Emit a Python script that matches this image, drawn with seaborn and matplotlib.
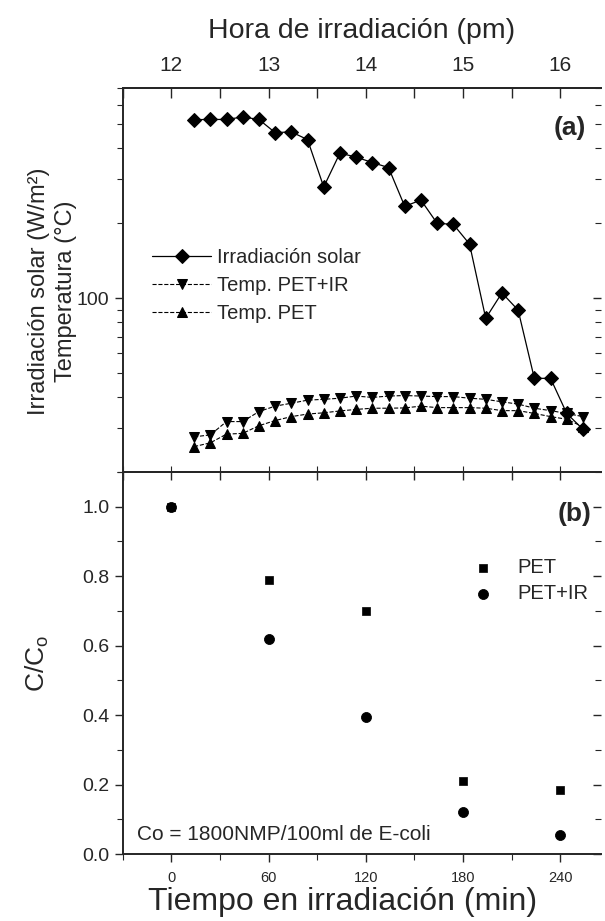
import matplotlib
matplotlib.use("Agg")
import matplotlib.pyplot as plt
import matplotlib.ticker as mticker
import seaborn as sns

# panel (a): minutes after 12:00
tiempo_a = [14, 24, 34, 44, 54, 64, 74, 84, 94, 104, 114, 124, 134,
            144, 154, 164, 174, 184, 194, 204, 214, 224, 234, 244, 254]
irradiacion = [522, 523, 523, 535, 523, 463, 466, 434, 280, 383, 369, 351, 335,
               234, 248, 200, 198, 165, 83, 105, 89.5, 47.6, 47.6, 34.4, 29.7]
temp_pet_ir = [27.7, 28.2, 31.9, 31.9, 35.0, 36.8, 37.8, 38.9, 39.2, 39.6, 40.4, 39.9, 40.4,
               40.6, 40.4, 40.2, 40.2, 39.6, 39.2, 38.3, 37.5, 36.1, 35.3, 34.4, 33.4]
temp_pet = [25.3, 26.2, 28.4, 28.6, 30.7, 32.2, 33.4, 34.2, 34.6, 35.2, 35.7, 36.1, 36.1,
            36.2, 36.8, 36.3, 36.3, 36.3, 36.1, 35.3, 35.3, 34.4, 33.4, 32.6, 30.4]
horas = [12, 13, 14, 15, 16]

# panel (b)
tiempo_b = [0, 60, 120, 180, 240]
cc_pet = [1.0, 0.79, 0.70, 0.21, 0.185]
cc_pet_ir = [1.0, 0.62, 0.395, 0.12, 0.055]

sns.set_style("ticks")
plt.rcParams['font.family'] = ['Liberation Sans', 'DejaVu Sans']

fig = plt.figure(figsize=(6.05, 9.21), dpi=100)
ax1 = fig.add_axes([0.203, 0.4875, 0.79, 0.417])
ax2 = fig.add_axes([0.203, 0.0727, 0.79, 0.4148])

# ---- panel (a)
sns.lineplot(x=tiempo_a, y=irradiacion, ax=ax1, color="k", lw=0.9, marker="D",
             markersize=7, markeredgecolor="k", label="Irradiación solar")
sns.lineplot(x=tiempo_a, y=temp_pet_ir, ax=ax1, color="k", lw=0.8, ls="--", marker="v",
             markersize=7.5, markeredgecolor="k", label="Temp. PET+IR")
sns.lineplot(x=tiempo_a, y=temp_pet, ax=ax1, color="k", lw=0.8, ls="--", marker="^",
             markersize=7.5, markeredgecolor="k", label="Temp. PET")

ax1.set_yscale("log")
ax1.set_ylim(20, 700)
ax1.set_xlim(-30, 265)
ax1.yaxis.set_major_locator(mticker.FixedLocator([100]))
ax1.yaxis.set_major_formatter(mticker.FixedFormatter(["100"]))
ax1.yaxis.set_minor_locator(mticker.LogLocator(base=10, subs=range(2, 10), numticks=20))
ax1.yaxis.set_minor_formatter(mticker.NullFormatter())
ax1.xaxis.set_major_locator(mticker.MultipleLocator(30))
ax1.tick_params(axis="x", which="both", labelbottom=False, direction="inout", length=8)
ax1.tick_params(axis="y", which="both", labelsize=14)
ax1.tick_params(axis="y", which="major", length=6, width=1)
ax1.tick_params(axis="y", which="minor", length=4, width=0.8)
ax1.set_xlabel("")
ax1.set_ylabel("Irradiación solar (W/m²)\nTemperatura (°C)", fontsize=17, linespacing=1.3)
ax1.yaxis.set_label_coords(-0.095, 0.47)

# right ticks pointing inward
r1 = ax1.secondary_yaxis("right")
r1.yaxis.set_major_locator(mticker.FixedLocator([100]))
r1.yaxis.set_minor_locator(mticker.LogLocator(base=10, subs=range(2, 10), numticks=20))
r1.tick_params(axis="y", which="both", direction="in", labelright=False)
r1.tick_params(axis="y", which="major", length=6, width=1)
r1.tick_params(axis="y", which="minor", length=4, width=0.8)
r1.spines["right"].set_visible(False)

top = ax1.secondary_xaxis("top", functions=(lambda m: 12 + m / 60.0, lambda h: (h - 12) * 60.0))
top.xaxis.set_major_locator(mticker.FixedLocator(horas))
top.xaxis.set_minor_locator(mticker.MultipleLocator(0.5))
top.tick_params(axis="x", which="both", direction="in", labelsize=15, pad=9)
top.tick_params(axis="x", which="major", length=7, width=1)
top.tick_params(axis="x", which="minor", length=7, width=1)
top.set_xlabel("Hora de irradiación (pm)", fontsize=20.5, labelpad=13)
ax1.tick_params(axis="x", top=False)

ax1.legend(loc="upper left", bbox_to_anchor=(0.045, 0.605), frameon=False, fontsize=14.5,
           handlelength=2.9, handletextpad=0.3, labelspacing=0.45, borderaxespad=0)
ax1.text(0.97, 0.895, "(a)", transform=ax1.transAxes, ha="right", va="center",
         fontsize=19, fontweight="bold")

# ---- panel (b)
sns.scatterplot(x=tiempo_b, y=cc_pet, ax=ax2, marker="s", s=38, color="k",
                edgecolor="k", label="PET")
sns.scatterplot(x=tiempo_b, y=cc_pet_ir, ax=ax2, marker="o", s=52, color="k",
                edgecolor="k", label="PET+IR")

ax2.set_xlim(-30, 265)
ax2.set_ylim(0, 1.1)
ax2.xaxis.set_major_locator(mticker.MultipleLocator(60))
ax2.xaxis.set_minor_locator(mticker.MultipleLocator(30))
ax2.yaxis.set_major_locator(mticker.MultipleLocator(0.2))
ax2.yaxis.set_minor_locator(mticker.MultipleLocator(0.1))
ax2.yaxis.set_major_formatter(mticker.FormatStrFormatter("%.1f"))
ax2.tick_params(axis="x", which="both", labelsize=10.5, pad=6)
ax2.tick_params(axis="y", which="both", labelsize=14)
ax2.tick_params(which="major", length=6, width=1)
ax2.tick_params(which="minor", length=4, width=0.8)
ax2.set_xlabel("Tiempo en irradiación (min)", fontsize=23)
ax2.xaxis.set_label_coords(0.46, -0.085)
ax2.set_ylabel("C/C$_\\mathregular{o}$", fontsize=19)
ax2.yaxis.set_label_coords(-0.15, 0.5)

# inward ticks on top and right of panel (b)
t2 = ax2.secondary_xaxis("top")
t2.xaxis.set_major_locator(mticker.MultipleLocator(30))
t2.tick_params(axis="x", direction="in", length=6, width=1, labeltop=False)
t2.spines["top"].set_linewidth(1.4)
r2 = ax2.secondary_yaxis("right")
r2.yaxis.set_major_locator(mticker.MultipleLocator(0.2))
r2.yaxis.set_minor_locator(mticker.MultipleLocator(0.1))
r2.tick_params(axis="y", which="both", direction="in", labelright=False)
r2.tick_params(axis="y", which="major", length=6, width=1)
r2.tick_params(axis="y", which="minor", length=4, width=0.8)
r2.spines["right"].set_visible(False)

ax2.legend(loc="upper left", bbox_to_anchor=(0.715, 0.795), frameon=False, fontsize=14.5,
           handlelength=1.0, handletextpad=1.2, labelspacing=0.35, borderaxespad=0)
ax2.text(0.98, 0.89, "(b)", transform=ax2.transAxes, ha="right", va="center",
         fontsize=19, fontweight="bold")
ax2.text(0.03, 0.05, "Co = 1800NMP/100ml de E-coli", transform=ax2.transAxes,
         ha="left", va="center", fontsize=15)

for ax in (ax1, ax2):
    ax.spines["right"].set_visible(False)
    for side in ("left", "top", "bottom"):
        ax.spines[side].set_linewidth(1.4)
top.spines["top"].set_linewidth(1.4)

fig.savefig("out.png", dpi=100)
